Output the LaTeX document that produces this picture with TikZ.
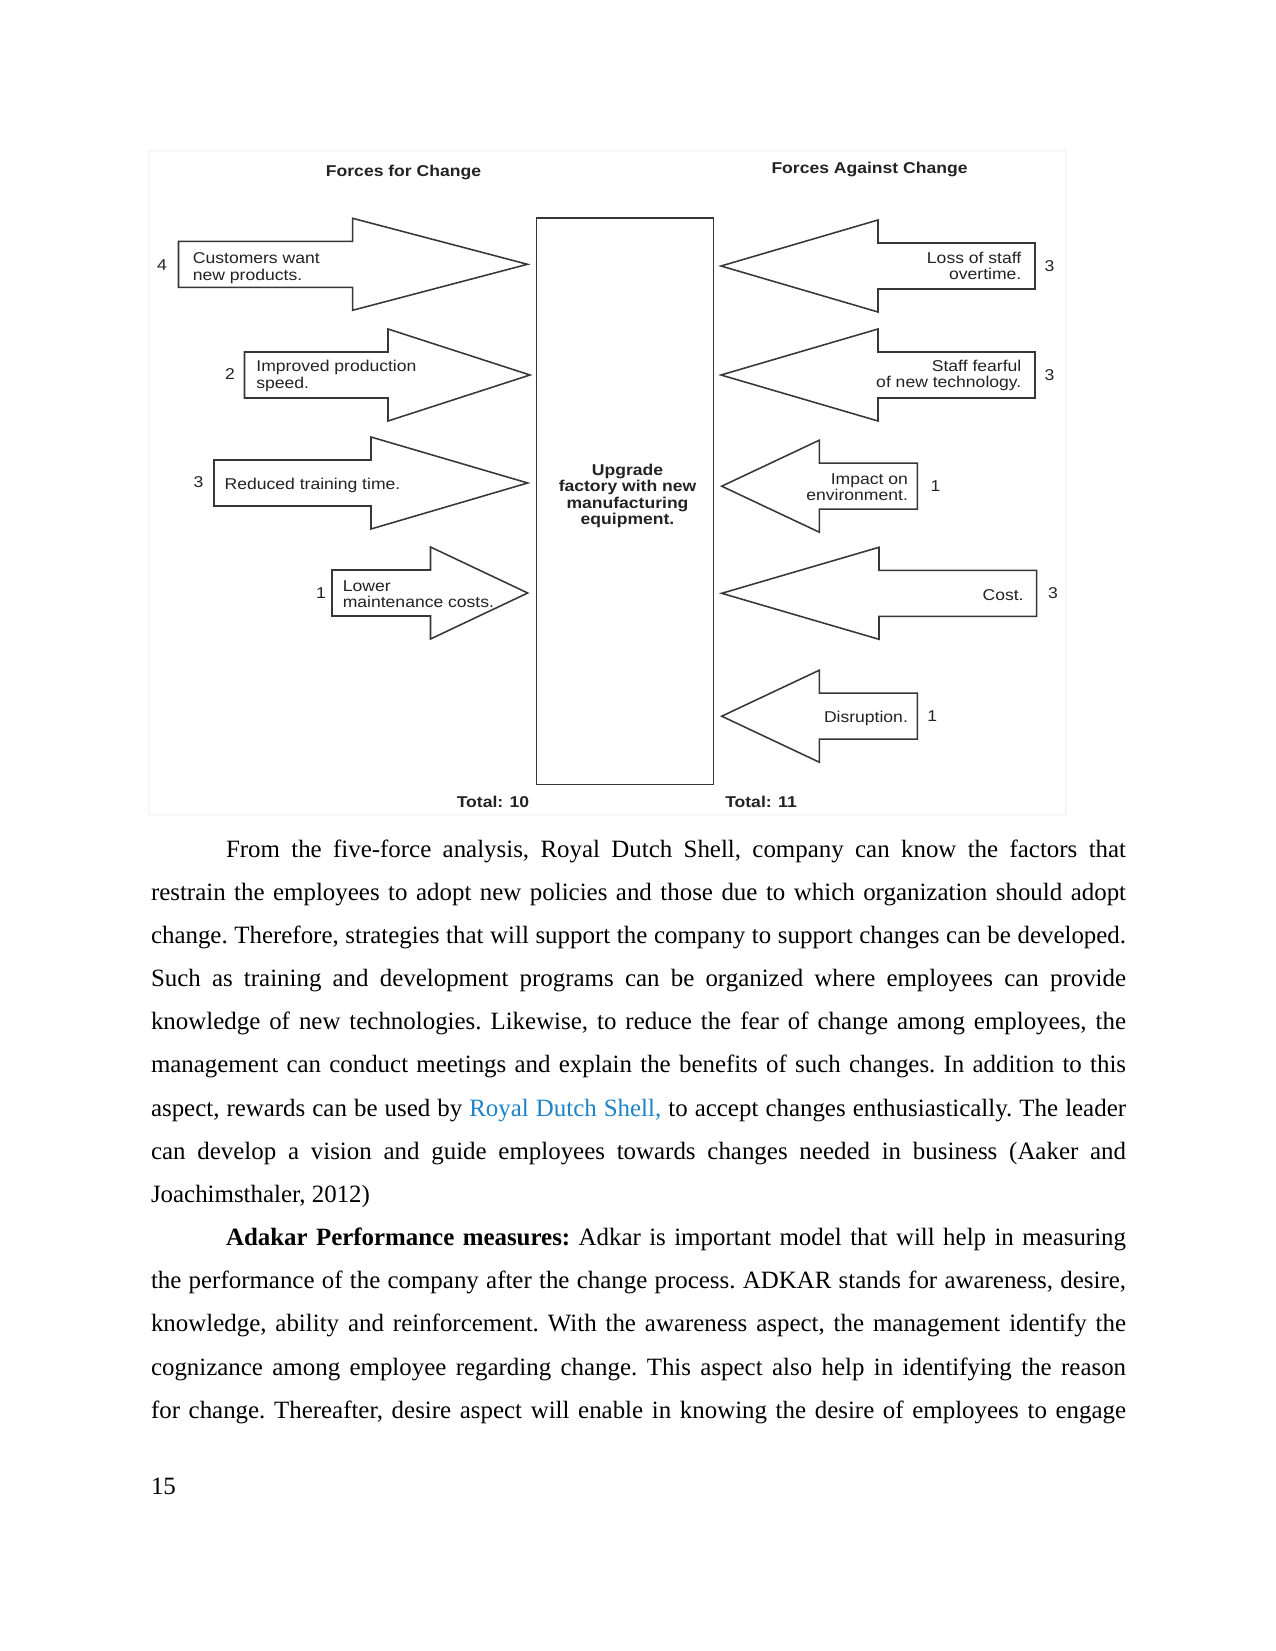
\documentclass[tikz,border=0pt]{standalone}
\usepackage{fontspec}
\setmainfont{Liberation Serif}
\newfontfamily\dgf[FakeStretch=1.12]{Liberation Sans}
\usepackage{xcolor}
\definecolor{linkblue}{RGB}{28,132,198}
\definecolor{dline}{RGB}{55,55,55}
\definecolor{dtext}{RGB}{35,35,35}
\newcommand\rightforce[4]{% shaft left x, head base x, tip x, centre y
  \draw[frc] (#1,#4-23) -- (#2,#4-23) -- (#2,#4-46) -- (#3,#4) -- (#2,#4+46) -- (#2,#4+23) -- (#1,#4+23) -- cycle;}
\newcommand\leftforce[4]{% shaft right x, head base x, tip x, centre y
  \draw[frc] (#1,#4-23) -- (#2,#4-23) -- (#2,#4-46) -- (#3,#4) -- (#2,#4+46) -- (#2,#4+23) -- (#1,#4+23) -- cycle;}
\begin{document}
\begin{tikzpicture}[x=0.4818pt,y=-0.4818pt,
  frc/.style={draw=dline,line width=0.75pt,line join=miter},
  lbl/.style={font=\dgf\fontsize{7.55}{8}\selectfont,inner sep=0pt,text=dtext},
  ttl/.style={font=\dgf\bfseries\fontsize{7.55}{8}\selectfont,inner sep=0pt,text=dtext},
  body/.style={font=\fontsize{12}{20.8}\selectfont,inner sep=0pt}]
\useasboundingbox (0,0) rectangle (1275,1651);
\fill[white] (0,0) rectangle (1275,1651);
% faint frame of the embedded figure
\draw[black!3,line width=1pt] (149,151) rectangle (1066,815);

% titles
\node[ttl] (fc) at (403.5,172) {Forces for Change};
\node[ttl] (fa) at (869.5,169) {Forces Against Change};

% central box
\draw[frc] (536.3,218) rectangle (713.6,784.5);
\node[ttl,align=center] (goal) at (627.5,496) {Upgrade\\factory with new\\manufacturing\\equipment.};

% forces for change
\rightforce{178.5}{352.6}{527.5}{264.3}
\rightforce{244.5}{388}{530}{375}
\rightforce{214}{371}{527.7}{483}
\rightforce{332}{430.5}{527.7}{593}

\node[lbl,anchor=west,align=left] (f1) at (192.5,268) {Customers want\\new products.};
\node[lbl,anchor=west,align=left] (f2) at (256,376) {Improved production\\speed.};
\node[lbl,anchor=west] (f3) at (224.3,485) {Reduced training time.};
\node[lbl,anchor=west,align=left] (f4) at (342.4,594) {Lower\\maintenance costs.};

\node[lbl] (nf1) at (162,265.3) {4};
\node[lbl] (nf2) at (230,374.5) {2};
\node[lbl] (nf3) at (198.5,482.5) {3};
\node[lbl] (nf4) at (321,593) {1};

% forces against change
\leftforce{1035}{878}{721}{266}
\leftforce{1035}{878}{721}{375}
\leftforce{917.3}{819.3}{721.7}{486.2}
\leftforce{1036.7}{879}{721.7}{593.3}
\leftforce{917.3}{819.3}{721.7}{716.2}

\node[lbl,anchor=east,align=right] (a1) at (1021.7,266) {Loss of staff\\overtime.};
\node[lbl,anchor=east,align=right] (a2) at (1021.7,375.5) {Staff fearful\\of new technology.};
\node[lbl,anchor=east,align=right] (a3) at (908.3,487) {Impact on\\environment.};
\node[lbl,anchor=east] (a4) at (1024,595.5) {Cost.};
\node[lbl,anchor=east] (a5) at (908.3,718) {Disruption.};

\node[lbl] (na1) at (1049.5,266) {3};
\node[lbl] (na2) at (1049.5,375.5) {3};
\node[lbl] (na3) at (935.5,486) {1};
\node[lbl] (na4) at (1053,593.3) {3};
\node[lbl] (na5) at (932.3,716) {1};

% totals
\node[ttl] (tot1) at (493,801.5) {Total: 10};
\node[ttl] (tot2) at (761,801.5) {Total: 11};

% body text
\node[body,anchor=base west,text width=469.76pt,align=justify] (txt) at (150.6,857) {%
\frenchspacing\tolerance=10000\hbadness=10000\hyphenpenalty=10000\emergencystretch=0pt
\hspace*{0.5in}From the five-force analysis, Royal Dutch Shell, company can know the factors that\linebreak
restrain the employees to adopt new policies and those due to which organization should adopt\linebreak
change. Therefore, strategies that will support the company to support changes can be developed.\linebreak
Such as training and development programs can be organized where employees can provide\linebreak
knowledge of new technologies. Likewise, to reduce the fear of change among employees, the\linebreak
management can conduct meetings and explain the benefits of such changes. In addition to this\linebreak
aspect, rewards can be used by \textcolor{linkblue}{Royal Dutch Shell,} to accept changes enthusiastically. The leader\linebreak
can develop a vision and guide employees towards changes needed in business (Aaker and\linebreak
Joachimsthaler, 2012)\par
\hspace*{0.5in}\textbf{Adakar Performance measures:} Adkar is important model that will help in measuring\linebreak
the performance of the company after the change process. ADKAR stands for awareness, desire,\linebreak
knowledge, ability and reinforcement. With the awareness aspect, the management identify the\linebreak
cognizance among employee regarding change. This aspect also help in identifying the reason\linebreak
for change. Thereafter, desire aspect will enable in knowing the desire of employees to engage{\parfillskip=0pt\par}};

% page number
\node[anchor=base west,inner sep=0pt,font=\fontsize{12}{14}\selectfont] (pg) at (150.6,1494) {15};
\end{tikzpicture}
\end{document}
